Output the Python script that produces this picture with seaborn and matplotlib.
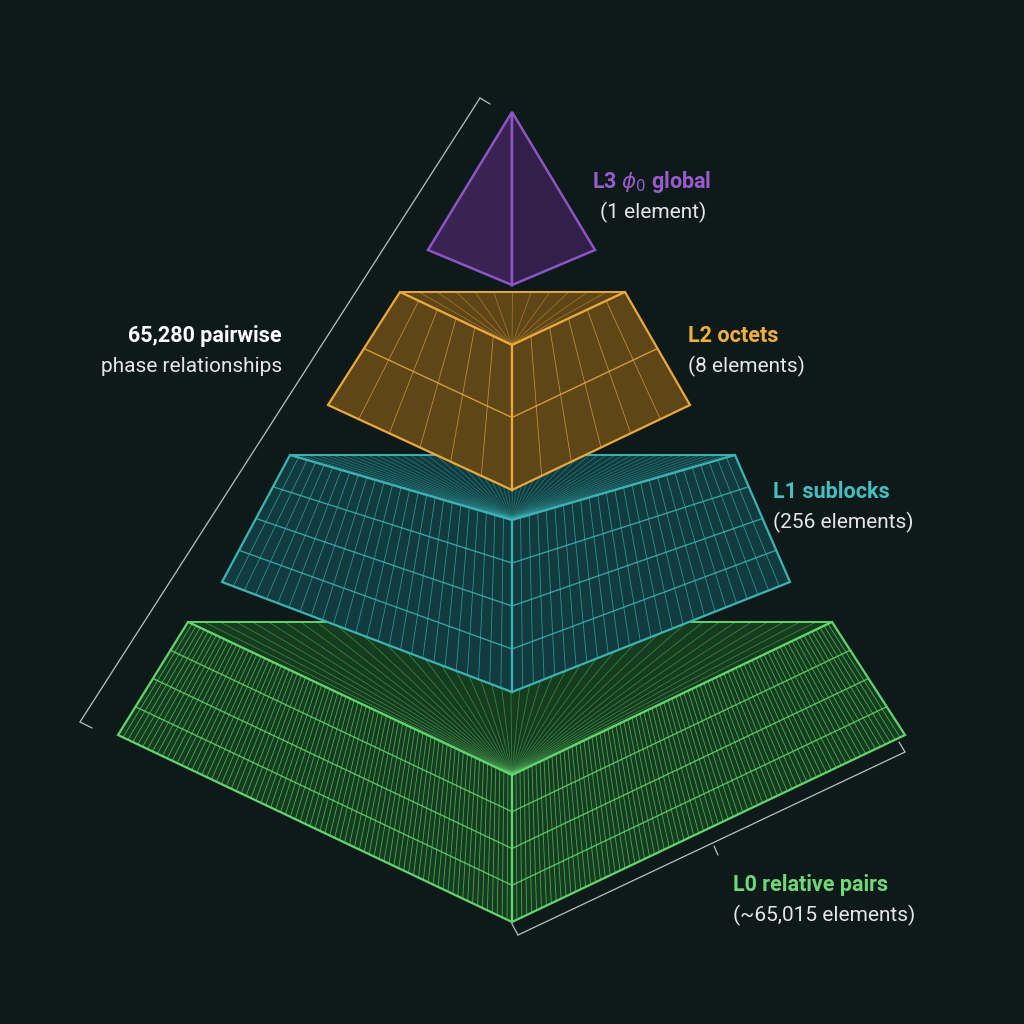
import numpy as np
import matplotlib
matplotlib.use("Agg")
import matplotlib.pyplot as plt
import seaborn as sns
from matplotlib.patches import Polygon

sns.set_theme(style="dark")
plt.rcParams['font.family'] = ['Roboto', 'DejaVu Sans']

# data
levels = ["L0", "L1", "L2", "L3"]
names = ["relative pairs", "sublocks", "octets", r"$\phi_0$ global"]
elements = ["(~65,015 elements)", "(256 elements)", "(8 elements)", "(1 element)"]
vdiv = [80, 26, 6, 1]
hdiv = [4, 4, 2, 1]
total_label = ["65,280 pairwise", "phase relationships"]

edge_c = ["#62d46f", "#3bb3b5", "#eaa93a", "#8c55c4"]
fill_c = ["#163c1f", "#113b3e", "#5e4619", "#3a2352"]
text_c = ["#6fd97a", "#45c0c2", "#f0ae3c", "#9a5ccd"]

# geometry (pixel space)
geo = [
    dict(bl=(188, 622), br=(832, 622), ft=(512, 775), dl=(118, 735), dr=(905, 735), dc=(512, 922)),
    dict(bl=(290, 455), br=(735, 455), ft=(512, 520), dl=(222, 582), dr=(790, 582), dc=(512, 692)),
    dict(bl=(400, 292), br=(625, 292), ft=(512, 345), dl=(328, 405), dr=(690, 405), dc=(512, 490)),
]

fig = plt.figure(figsize=(10.24, 10.24), dpi=100)
bg = "#0e1a1a"
fig.patch.set_facecolor(bg)
ax = fig.add_axes([0, 0, 1, 1])
ax.set_facecolor(bg)
ax.set_xlim(0, 1024)
ax.set_ylim(1024, 0)
ax.axis("off")

def P(p): return np.array(p, float)

def face(A, B, C, D, ec, fc, nv, nh, z):
    A, B, C, D = map(P, (A, B, C, D))
    ax.add_patch(Polygon([A, B, C, D], closed=True, fc=fc, ec=ec, lw=1.6, zorder=z))
    for t in np.linspace(0, 1, nv + 1)[1:-1]:
        p, q = A + (B - A) * t, D + (C - D) * t
        ax.plot([p[0], q[0]], [p[1], q[1]], color=ec, lw=0.6, alpha=0.7, zorder=z + 0.1)
    for s in np.linspace(0, 1, nh + 1)[1:-1]:
        p, q = A + (D - A) * s, B + (C - B) * s
        ax.plot([p[0], q[0]], [p[1], q[1]], color=ec, lw=1.0, alpha=0.85, zorder=z + 0.1)

for i, g in enumerate(geo):
    z = 2 + i * 2
    ec, fc = edge_c[i], fill_c[i]
    top = [g["bl"], g["br"], g["ft"]]
    ax.add_patch(Polygon(top, closed=True, fc=fc, ec=ec, lw=1.4, zorder=z))
    bl, br, ft = map(P, top)
    nrad = max(10, vdiv[i] // 2) if i == 0 else vdiv[i] * 2
    for t in np.linspace(0, 1, nrad + 1)[1:-1]:
        p = bl + (br - bl) * t
        ax.plot([p[0], ft[0]], [p[1], ft[1]], color=ec, lw=0.6, alpha=0.45, zorder=z + 0.1)
    face(g["bl"], g["ft"], g["dc"], g["dl"], ec, fc, vdiv[i], hdiv[i], z)
    face(g["ft"], g["br"], g["dr"], g["dc"], ec, fc, vdiv[i], hdiv[i], z)

# L3 tetrahedron
apex, l, r, b = (512, 112), (428, 250), (595, 250), (512, 285)
ax.add_patch(Polygon([apex, l, b], closed=True, fc=fill_c[3], ec=edge_c[3], lw=1.8, zorder=9))
ax.add_patch(Polygon([apex, b, r], closed=True, fc="#33204a", ec=edge_c[3], lw=1.8, zorder=9))

# labels
lab_pos = [(733, 885), (773, 492), (688, 336), (592, 182)]
for i in range(4):
    x, y = lab_pos[i]
    ax.text(x, y, f"{levels[i]} {names[i]}", color=text_c[i], fontsize=15.5, fontweight="bold", va="center")
    ax.text(x + (8 if i == 3 else 0), y + 30, elements[i], color="#e6e6e6", fontsize=15, va="center")

ax.text(282, 336, total_label[0], color="white", fontsize=15.5, fontweight="bold", ha="right", va="center")
ax.text(282, 366, total_label[1], color="#e6e6e6", fontsize=15, ha="right", va="center")

# brackets
lc = "#b8c0c0"
ax.plot([480, 80], [98, 722], color=lc, lw=0.9)
ax.plot([480, 490], [98, 104], color=lc, lw=0.9)
ax.plot([80, 92], [722, 728], color=lc, lw=0.9)
ax.plot([518, 905], [935, 752], color=lc, lw=0.9)
ax.plot([518, 512], [935, 924], color=lc, lw=0.9)
ax.plot([905, 899], [752, 742], color=lc, lw=0.9)
ax.plot([718, 714], [855, 846], color=lc, lw=0.9)

fig.savefig("out.png", dpi=100, facecolor=bg)
